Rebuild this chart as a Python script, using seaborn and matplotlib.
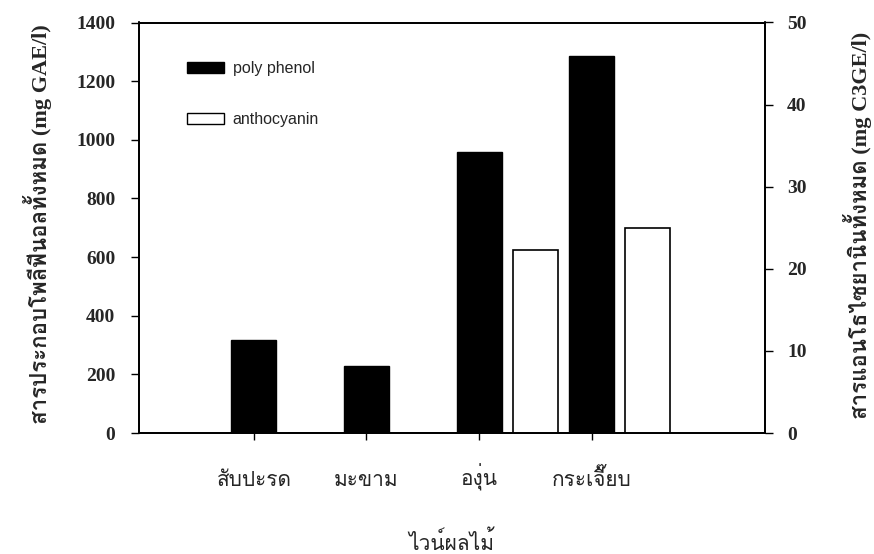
import matplotlib
matplotlib.use("Agg")
import matplotlib.pyplot as plt
from matplotlib import font_manager
from matplotlib.patches import Patch
import seaborn as sns
import numpy as np

# ---------------- data ----------------
categories = ["สับปะรด", "มะขาม", "องุ่น", "กระเจี๊ยบ"]
polyphenol = [316, 228, 959, 1285]        # mg GAE/l (left axis)
anthocyanin = [0, 0, 22.3, 25.0]          # mg C3GE/l (right axis)
left_ticks = [0, 200, 400, 600, 800, 1000, 1200, 1400]
right_ticks = [0, 10, 20, 30, 40, 50]
series_names = ["poly phenol", "anthocyanin"]
left_label = "สารประกอบโพลีฟีนอลทั้งหมด (mg GAE/l)"
right_label = "สารแอนโธไซยานินทั้งหมด (mg C3GE/l)"
x_label = "ไวน์ผลไม้"


def find_thai_font():
    try:
        from fontTools.ttLib import TTFont
    except Exception:
        return None
    found = []
    for f in font_manager.fontManager.ttflist:
        try:
            tt = TTFont(f.fname, fontNumber=0, lazy=True)
            cmap = tt.getBestCmap()
            if cmap and 0x0E2A in cmap and 0x0E1A in cmap and 0x0E35 in cmap:
                found.append(f.name)
        except Exception:
            pass
    return found[0] if found else None


sns.set_theme(style="white")
thai = find_thai_font()
serif_family = ["Liberation Serif", "DejaVu Serif"]
thai_family = ([thai] if thai else []) + ["Liberation Serif", "DejaVu Sans"]
mixed_family = ["Liberation Serif"] + ([thai] if thai else []) + ["DejaVu Sans"]
plt.rcParams["font.family"] = serif_family

W, H = 874, 554
fig = plt.figure(figsize=(W / 100, H / 100), dpi=100)
ax = fig.add_axes([139 / W, 1 - 433 / H, 626 / W, 410.5 / H])
ax2 = ax.twinx()

pos = np.arange(len(categories))
sns.barplot(x=pos.astype(float), y=polyphenol, native_scale=True, width=0.4,
            color="black", edgecolor="black", linewidth=1, saturation=1,
            ax=ax, zorder=2)
sns.barplot(x=pos.astype(float) + 0.5, y=anthocyanin, native_scale=True, width=0.4,
            color="white", edgecolor="black", linewidth=1.2, saturation=1,
            ax=ax2, zorder=2)

for a in (ax, ax2):
    a.set_xlim(-1.02, 4.54)
    a.grid(False)
    for s in a.spines.values():
        s.set_color("black")
        s.set_linewidth(1.3)
ax.set_ylim(0, 1400)
ax2.set_ylim(0, 50)
ax.set_yticks(left_ticks)
ax.set_yticklabels([str(t) for t in left_ticks])
ax2.set_yticks(right_ticks)
ax2.set_yticklabels([str(t) for t in right_ticks])
ax.set_xticks(pos)
ax.set_xticklabels(categories, family=thai_family, fontsize=15, va="baseline")
ax2.set_xticks(pos)

ax.tick_params(axis="y", direction="out", length=6, width=1, pad=11,
               labelsize=14, left=True, color="black")
ax2.tick_params(axis="y", direction="out", length=6, width=1, pad=10,
                labelsize=14, right=True, color="black")
ax.tick_params(axis="x", direction="out", length=5, width=1, pad=33,
               bottom=True, color="black")
for lab in ax.get_yticklabels() + ax2.get_yticklabels():
    lab.set_fontweight("bold")

ax.set_xlabel("")
ax2.set_xlabel("")
ax.set_ylabel("")
ax2.set_ylabel("")
fig.text(451 / W, 1 - 550 / H, x_label, family=thai_family, fontsize=15,
         ha="center", va="baseline")
fig.text(38 / W, 1 - 224 / H, left_label, family=mixed_family, fontsize=16,
         fontweight="bold", rotation=90, ha="center", va="center")
fig.text(857 / W, 1 - 225 / H, right_label, family=mixed_family, fontsize=16,
         fontweight="bold", rotation=90, ha="center", va="center")

handles = [Patch(facecolor="black", edgecolor="black", label=series_names[0]),
           Patch(facecolor="white", edgecolor="black", label=series_names[1])]
leg = ax.legend(handles=handles, loc="upper left", bbox_to_anchor=(0.064, 0.925),
                frameon=False, prop={"family": "Liberation Sans", "size": 11.5},
                handlelength=2.3, handleheight=0.62, labelspacing=2.25,
                handletextpad=0.55, borderpad=0)

fig.savefig("out.png", dpi=100)
